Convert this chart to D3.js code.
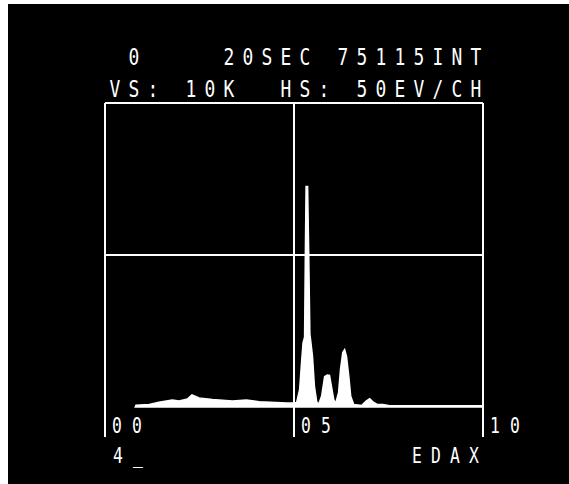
<!DOCTYPE html>
<html lang="en">
<head>
<meta charset="UTF-8">
<title>EDAX spectrum</title>
<script src="https://d3js.org/d3.v7.min.js"></script>
<style>
  body { margin: 0; background: #fff; }
  .glyph { fill: #fff; font-family: "DejaVu Sans Mono", monospace; }
</style>
</head>
<body>
<script>
// spectrum (energy in keV, counts)
const spectrumKeV = [0.80, 0.82, 1.17, 1.43, 1.78, 1.96, 2.18, 2.30, 2.49, 2.84, 3.37, 3.74, 4.08, 4.80, 4.96,
  5.07, 5.15, 5.20, 5.24, 5.28, 5.30, 5.32, 5.36, 5.39, 5.42, 5.44, 5.49, 5.54, 5.60, 5.65,
  5.73, 5.81, 5.88, 5.94, 5.99, 6.05, 6.10, 6.18, 6.23, 6.29, 6.34, 6.39, 6.45, 6.50, 6.58,
  6.79, 6.90, 7.00, 7.11, 7.21, 7.35, 7.53, 10.0];
const spectrumCounts = [0, 60, 80, 160, 230, 200, 260, 400, 300, 250, 200, 230, 170, 130, 130,
  150, 580, 1470, 2120, 2300, 5000, 7250, 7250, 5000, 2400, 2200, 1660, 680, 180, 80,
  350, 1000, 1050, 1040, 680, 250, 110, 480, 1230, 1790, 1890, 1660, 1000, 350, 80,
  50, 190, 270, 150, 80, 80, 40, 40];

const gridKeV = [0, 5, 10];
const gridCounts = [5000, 10000];
const tickLabels = ["00", "05", "10"];

const headerLine1 = " 0    20SEC 75115INT";
const headerLine2 = "VS: 10K  HS: 50EV/CH";
const footLeft = "4_";
const footRight = "EDAX";

const W = 569, H = 484;
const svg = d3.select("body").append("svg")
    .attr("width", W)
    .attr("height", H);

// screen area (photo has a thin white margin top and left)
svg.append("rect").attr("x", 8).attr("y", 4).attr("width", W - 8).attr("height", H - 4).attr("fill", "#000");

const x = d3.scaleLinear().domain([0, 10]).range([105, 483]);
const y = d3.scaleLinear().domain([0, 10000]).range([407, 103]);
const gridBottom = 437;

// draw a string one character cell at a time, like the CRT character generator
function drawChars(str, x0, base, pitch, size) {
    const g = svg.append("g");
    str.split("").forEach((ch, i) => {
        if (ch === " ") return;
        g.append("text")
            .attr("class", "glyph")
            .attr("text-anchor", "middle")
            .attr("font-size", size)
            .attr("transform", `translate(${x0 + i * pitch},${base}) scale(0.78,1)`)
            .text(ch);
    });
}

// grid
svg.selectAll(".vline")
    .data(gridKeV)
    .enter().append("line")
    .attr("x1", d => x(d)).attr("x2", d => x(d))
    .attr("y1", y(10000)).attr("y2", gridBottom)
    .attr("stroke", "#fff").attr("stroke-width", 2);

svg.selectAll(".hline")
    .data(gridCounts)
    .enter().append("line")
    .attr("x1", x(0)).attr("x2", x(10))
    .attr("y1", d => y(d)).attr("y2", d => y(d))
    .attr("stroke", "#fff").attr("stroke-width", 2);

// spectrum
const pts = spectrumKeV.map((k, i) => [k, spectrumCounts[i]]);
const area = d3.area()
    .x(d => x(d[0]))
    .y0(y(0))
    .y1(d => y(d[1]));
svg.append("path")
    .datum(pts)
    .attr("d", area)
    .attr("fill", "#fff")
    .attr("stroke", "#fff")
    .attr("stroke-width", 1.5);

// text
drawChars(headerLine1, 115, 65, 19, 23);
drawChars(headerLine2, 115, 97, 19, 23);

tickLabels.forEach((t, i) => drawChars(t, x(gridKeV[i]) + 12, 433, 20, 21));

drawChars(footLeft, 118, 463, 20, 21);
drawChars(footRight, 417, 463, 19, 21);
</script>
</body>
</html>
